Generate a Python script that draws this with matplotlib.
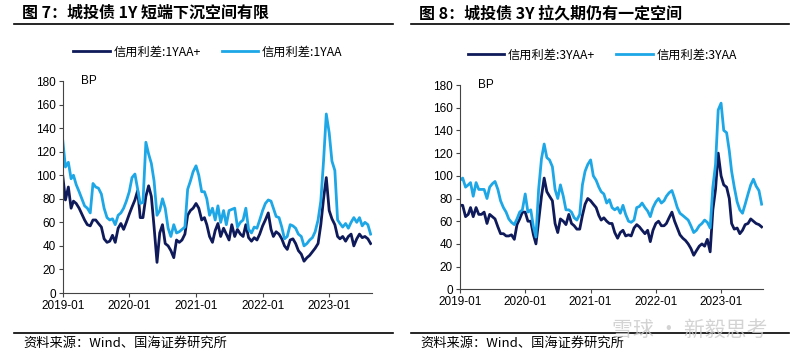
import numpy as np
import pandas as pd
import matplotlib
matplotlib.use("Agg")
import matplotlib.pyplot as plt
import matplotlib.dates as mdates
from matplotlib.lines import Line2D

plt.rcParams['font.family'] = ['Liberation Sans', 'Noto Sans CJK SC', 'DejaVu Sans']
cjk = ['Noto Sans CJK SC', 'DejaVu Sans']

# half-month observations, 2019-01 .. 2023-08
months = pd.date_range('2019-01-01', periods=56, freq='MS')
dates = np.sort(np.concatenate([months.values, (months + pd.Timedelta(days=15)).values]))

# 1Y credit spreads (BP)
y1_aap = [100, 79, 90, 72, 78, 76, 72, 67, 62, 58,
          57, 62, 62, 59, 56, 46, 43, 44, 49, 43,
          55, 59, 54, 60, 67, 73, 79, 87, 64, 64,
          82, 91, 82, 56, 26, 51, 58, 42, 40, 36,
          30, 45, 43, 45, 50, 66, 70, 72, 76, 72,
          62, 64, 58, 48, 43, 53, 59, 48, 55, 50,
          45, 58, 48, 54, 50, 48, 58, 47, 44, 47,
          45, 50, 57, 62, 68, 54, 48, 52, 50, 46,
          40, 37, 45, 46, 42, 36, 33, 27, 30, 32,
          35, 38, 42, 58, 80, 98, 70, 63, 58, 48,
          46, 48, 44, 48, 50, 40, 46, 50, 47, 48, 46, 42]
y1_aa = [130, 107, 111, 97, 100, 92, 86, 80, 74, 72,
         68, 93, 90, 89, 84, 72, 64, 62, 63, 58,
         66, 68, 72, 78, 86, 98, 101, 88, 76, 77,
         128, 118, 110, 95, 66, 70, 80, 72, 55, 48,
         58, 51, 52, 54, 56, 88, 95, 103, 108, 100,
         86, 86, 80, 66, 72, 62, 74, 60, 70, 58,
         70, 71, 72, 56, 60, 62, 72, 54, 51, 56,
         55, 62, 70, 76, 79, 78, 72, 65, 64, 56,
         46, 48, 58, 57, 55, 50, 48, 40, 42, 45,
         47, 52, 62, 78, 112, 152, 136, 112, 104, 62,
         59, 56, 59, 55, 60, 64, 60, 64, 57, 60, 58, 50]

# 3Y credit spreads (BP)
y3_aap = [74, 74, 64, 66, 72, 64, 72, 66, 66, 68,
          58, 66, 64, 62, 55, 49, 49, 47, 47, 48,
          44, 57, 62, 68, 68, 60, 60, 48, 40, 60,
          82, 98, 86, 82, 78, 58, 50, 62, 60, 57,
          66, 58, 56, 53, 53, 65, 75, 80, 78, 75,
          72, 65, 61, 63, 60, 58, 58, 50, 45, 50,
          52, 47, 48, 47, 54, 57, 55, 52, 49, 52,
          42, 52, 58, 60, 56, 56, 58, 63, 68, 60,
          54, 48, 45, 43, 40, 36, 30, 34, 38, 40,
          38, 44, 33, 70, 88, 120, 100, 92, 90, 80,
          58, 53, 54, 49, 52, 57, 58, 62, 60, 58, 57, 55]
y3_aa = [96, 98, 90, 92, 94, 82, 94, 88, 88, 88,
         80, 90, 93, 95, 88, 78, 72, 68, 62, 59,
         57, 62, 68, 70, 84, 68, 70, 55, 46, 88,
         115, 128, 116, 114, 108, 88, 80, 92, 82, 70,
         70, 68, 63, 61, 66, 92, 104, 110, 114, 100,
         96, 90, 86, 84, 76, 79, 72, 70, 72, 67,
         74, 66, 60, 59, 61, 72, 73, 76, 72, 69,
         64, 72, 77, 80, 76, 78, 82, 85, 87, 80,
         72, 67, 65, 63, 61, 56, 50, 52, 56, 58,
         61, 59, 54, 90, 110, 158, 164, 140, 138, 122,
         104, 90, 77, 70, 67, 75, 84, 92, 97, 91, 87, 75]

dark = '#0e1a5a'
light = '#1ea7e6'

fig = plt.figure(figsize=(8, 3.6), dpi=100)


def panel(rect, aap, aa, names, leg_xy, title, tx):
    ax = fig.add_axes(rect)
    ax.plot(dates, aap, color=dark, lw=2.0, label=names[0])
    ax.plot(dates, aa, color=light, lw=2.0, label=names[1])
    ax.set_ylim(0, 180)
    ax.set_yticks(range(0, 181, 20))
    ax.set_xlim(np.datetime64('2019-01-01'), np.datetime64('2023-08-22'))
    ax.xaxis.set_major_locator(mdates.YearLocator())
    ax.xaxis.set_major_formatter(mdates.DateFormatter('%Y-%m'))
    for s in ['top', 'right']:
        ax.spines[s].set_visible(False)
    for s in ['left', 'bottom']:
        ax.spines[s].set_color('#444444')
    ax.tick_params(labelsize=8.5, length=3, color='#444444', pad=2)
    ax.text(0.06, 1.0, 'BP', transform=ax.transAxes, fontsize=8.5, va='center')
    ax.legend(loc='center', bbox_to_anchor=leg_xy, ncol=2, frameon=False,
              handlelength=3.0, columnspacing=1.7, handletextpad=0.3,
              prop={'family': cjk, 'size': 8.8})
    fig.text(tx / 800, 1 - 13 / 360, title, fontsize=11.5, fontweight='bold',
             family=cjk, va='center')
    fig.text((tx + 1) / 800, 1 - 343 / 360, '资料来源：Wind、国海证券研究所',
             fontsize=9.5, family=cjk, va='center')
    return ax


panel([62.7 / 800, 1 - 293 / 360, 309 / 800, 212 / 360], y1_aap, y1_aa,
      ['信用利差:1YAA+', '信用利差:1YAA'], (0.47, 1.137),
      '图 7：城投债 1Y 短端下沉空间有限', 22)
panel([460 / 800, 1 - 289.3 / 360, 302.7 / 800, 204.3 / 360], y3_aap, y3_aa,
      ['信用利差:3YAA+', '信用利差:3YAA'], (0.47, 1.147),
      '图 8：城投债 3Y 拉久期仍有一定空间', 419)

for x0, x1 in [(14, 393), (411, 789)]:
    fig.add_artist(Line2D([x0 / 800, x1 / 800], [1 - 24 / 360] * 2, color='black', lw=1.2))
    fig.add_artist(Line2D([x0 / 800, x1 / 800], [1 - 333 / 360] * 2, color='black', lw=1.2))

fig.text(612 / 800, 1 - 330 / 360, '雪球 · 新毅思考', fontsize=15, family=cjk,
         color='#c9c9c9', va='center', alpha=0.8)

fig.savefig('out.png', dpi=100)
